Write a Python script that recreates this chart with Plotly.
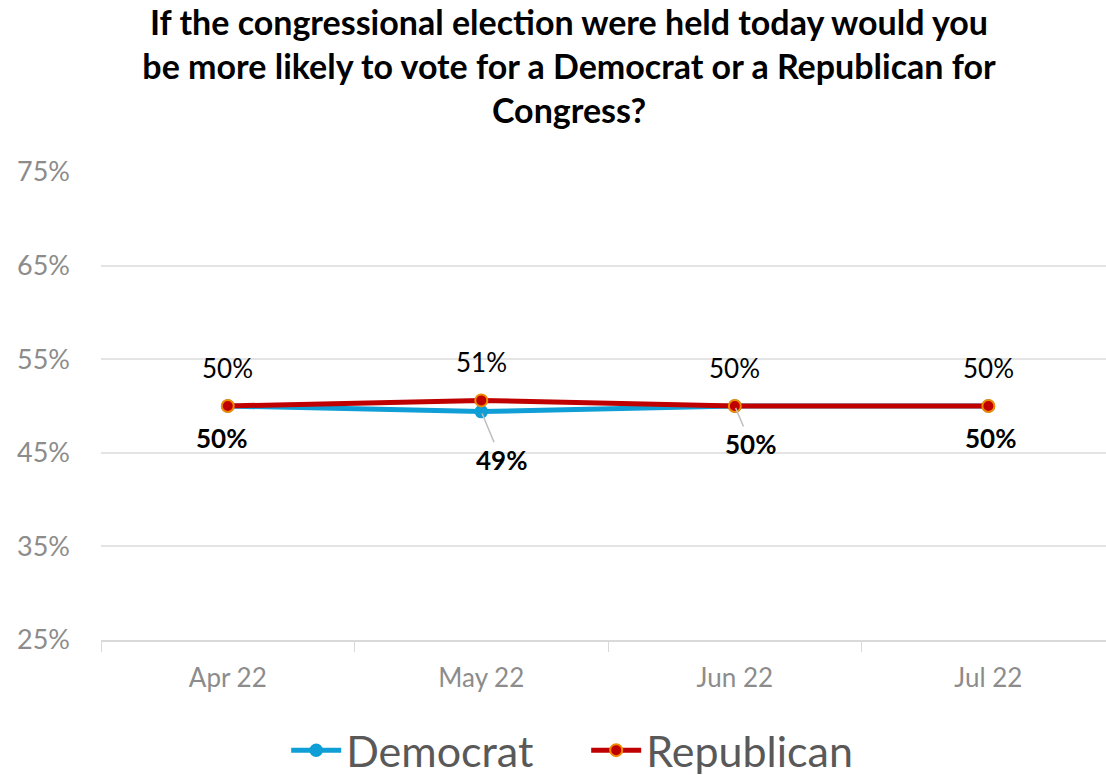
import plotly.graph_objects as go

months = ["Apr 22", "May 22", "Jun 22", "Jul 22"]
democrat = [50.0, 49.4, 50.0, 50.0]
republican = [50.0, 50.6, 50.0, 50.0]
dem_labels = ["50%", "49%", "50%", "50%"]
rep_labels = ["50%", "51%", "50%", "50%"]
y_ticks = [25, 35, 45, 55, 65, 75]

FONT = "Lato"
BLUE = "#0F9ED5"
RED = "#C00000"
ORANGE = "#F08A00"

fig = go.Figure()
fig.add_trace(go.Scatter(
    x=months, y=democrat, name="Democrat", mode="lines+markers",
    line=dict(color=BLUE, width=5),
    marker=dict(size=12, color=BLUE, line=dict(color=BLUE, width=1.5)),
))
fig.add_trace(go.Scatter(
    x=months, y=republican, name="Republican", mode="lines+markers",
    line=dict(color=RED, width=5),
    marker=dict(size=12, color=RED, line=dict(color=ORANGE, width=2)),
))

annotations = []
for m, v, t in zip(months, republican, rep_labels):
    annotations.append(dict(x=m, y=v, text=t, showarrow=False, yshift=38,
                            font=dict(family=FONT, size=26, color="#000000")))
dem_offsets = [(-6, 32, False), (20, 48, True), (16, 38, True), (2, 32, False)]
for m, v, t, (dx, dy, arrow) in zip(months, democrat, dem_labels, dem_offsets):
    if arrow:
        annotations.append(dict(x=m, y=v, text="<b>%s</b>" % t, showarrow=True,
                                ax=dx, ay=dy, arrowhead=0, arrowwidth=1.5,
                                arrowcolor="#BFBFBF", standoff=2,
                                font=dict(family=FONT, size=26, color="#000000")))
    else:
        annotations.append(dict(x=m, y=v, text="<b>%s</b>" % t, showarrow=False,
                                xshift=dx, yshift=-dy,
                                font=dict(family=FONT, size=26, color="#000000")))

fig.update_layout(
    width=1106, height=775,
    paper_bgcolor="white", plot_bgcolor="white",
    margin=dict(l=101, r=0, t=172, b=135),
    title=dict(
        text="<b>If the congressional election were held today would you<br>"
             "be more likely to vote for a Democrat or a Republican for<br>"
             "Congress?</b>",
        x=0.5145, xanchor="center", xref="container",
        y=0.955, yanchor="top", yref="container",
        font=dict(family=FONT, size=34, color="#000000"),
    ),
    font=dict(family=FONT),
    showlegend=True,
    legend=dict(
        orientation="h", x=0.53, xanchor="center", xref="container",
        y=0.032, yanchor="middle", yref="container",
        font=dict(family=FONT, size=43, color="#595959"),
        itemwidth=50, entrywidth=235, entrywidthmode="pixels",
    ),
    annotations=annotations,
    hovermode=False,
)
fig.update_xaxes(
    type="category", range=[-0.5, 3.464],
    showgrid=False, showline=True, linecolor="#D9D9D9", linewidth=1.5,
    ticks="outside", tickson="boundaries", ticklen=10, tickcolor="#D9D9D9",
    tickfont=dict(family=FONT, size=26, color="#8C8C8C"),
    ticklabelstandoff=14,
)
fig.update_yaxes(
    range=[25, 75], tickvals=y_ticks, ticktext=["%d%%" % v for v in y_ticks],
    showgrid=True, gridcolor="#E4E4E4", gridwidth=1.5,
    zeroline=False, showline=False,
    tickfont=dict(family=FONT, size=27, color="#8C8C8C"),
    ticklabelstandoff=30,
)

fig.write_html("out.html", config={"displayModeBar": False},
               post_script="document.body.style.margin='0';")
